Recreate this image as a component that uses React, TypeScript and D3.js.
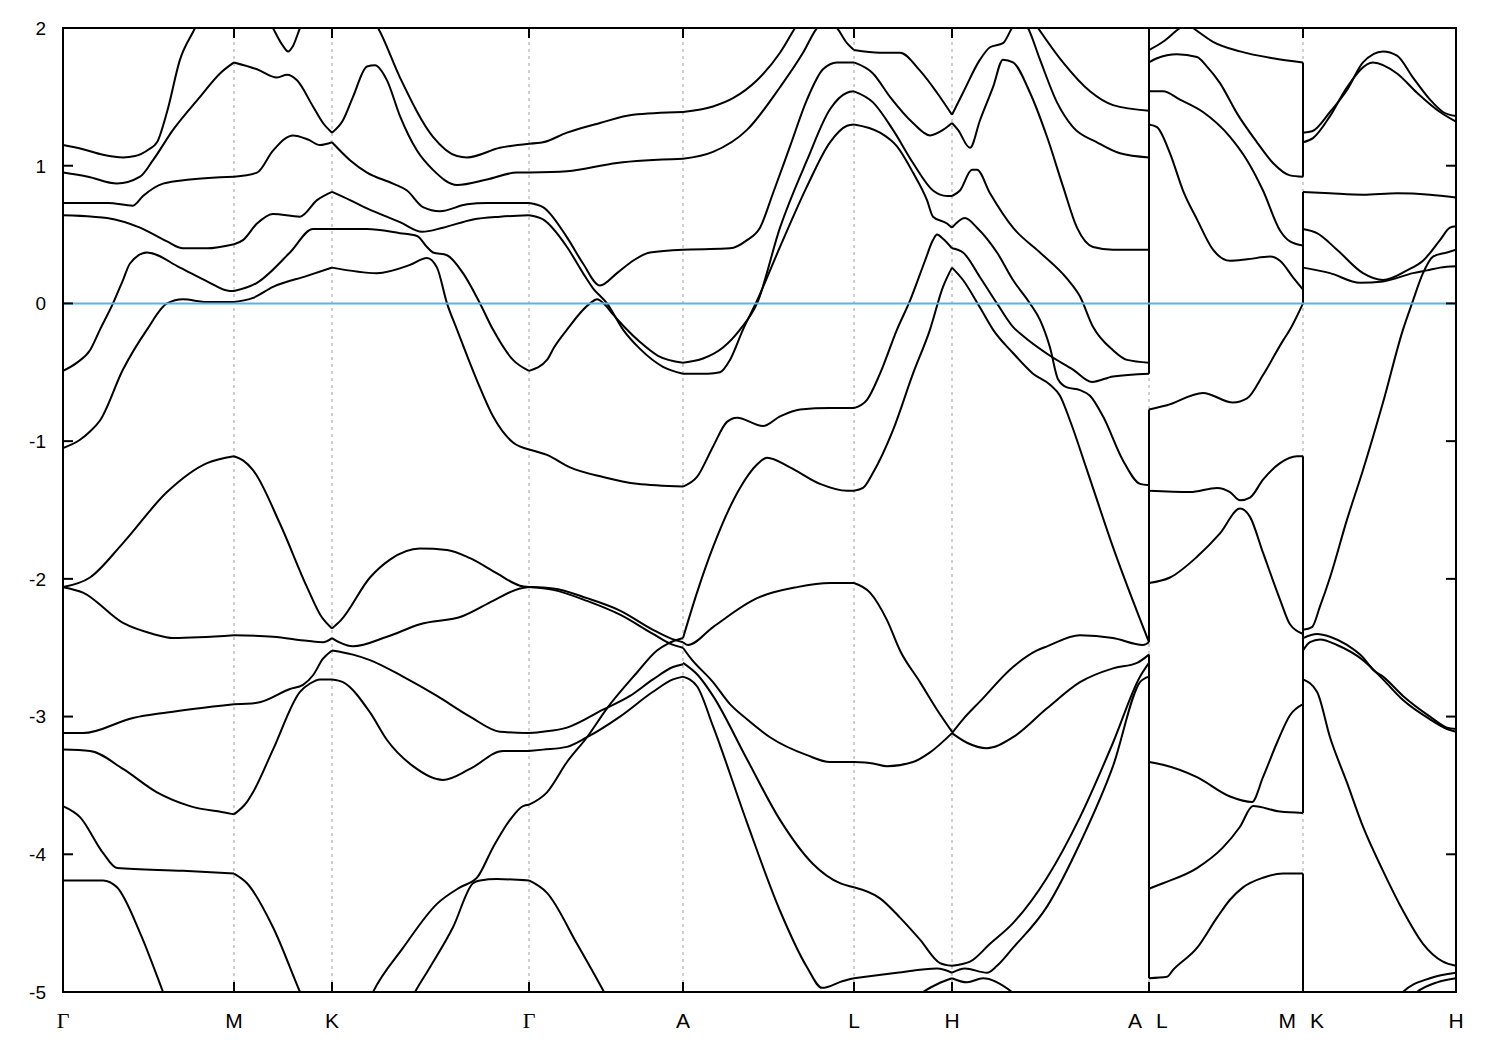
import React from "react";
import * as d3 from "d3";

const W = 1500;
const H = 1050;
const PL = 63, PR = 1456, PT = 28, PB = 992;

const kPoints = [0, 1.71, 2.69, 4.66, 6.2, 7.91, 8.89, 10.86, 12.4, 13.93];
const yTicks = [2, 1, 0, -1, -2, -3, -4, -5];
const kLabels = [
  { k: 0, text: "Γ", side: 0 },
  { k: 1.71, text: "M", side: 0 },
  { k: 2.69, text: "K", side: 0 },
  { k: 4.66, text: "Γ", side: 0 },
  { k: 6.2, text: "A", side: 0 },
  { k: 7.91, text: "L", side: 0 },
  { k: 8.89, text: "H", side: 0 },
  { k: 10.86, text: "A", side: -1 },
  { k: 10.86, text: "L", side: 1 },
  { k: 12.4, text: "M", side: -1 },
  { k: 12.4, text: "K", side: 1 },
  { k: 13.93, text: "H", side: 0 },
];

// Γ - M
const bandsGM = [
  [[0,1.15],[0.2,1.12],[0.4,1.08],[0.6,1.06],[0.72,1.07],[0.86,1.12],[0.94,1.17],[1.04,1.39],[1.17,1.77],[1.32,2.0],[1.5,2.3],[1.71,2.4]],
  [[0,0.95],[0.25,0.92],[0.54,0.87],[0.77,0.92],[0.9,1.04],[1.1,1.26],[1.37,1.5],[1.57,1.67],[1.71,1.75]],
  [[0,0.73],[0.45,0.73],[0.7,0.71],[0.8,0.78],[1.0,0.87],[1.27,0.9],[1.71,0.92]],
  [[0,0.64],[0.3,0.63],[0.44,0.62],[0.77,0.55],[1.04,0.45],[1.2,0.4],[1.44,0.4],[1.71,0.43]],
  [[0,-0.49],[0.14,-0.43],[0.27,-0.34],[0.37,-0.19],[0.5,0.0],[0.6,0.17],[0.67,0.29],[0.84,0.37],[1.17,0.26],[1.44,0.16],[1.67,0.09],[1.71,0.09]],
  [[0,-1.05],[0.17,-0.99],[0.27,-0.93],[0.37,-0.85],[0.6,-0.48],[0.84,-0.19],[1.04,0.0],[1.2,0.03],[1.44,0.01],[1.71,0.01]],
  [[0,-2.06],[0.27,-1.99],[0.6,-1.74],[1.04,-1.37],[1.44,-1.16],[1.71,-1.11]],
  [[0,-2.06],[0.2,-2.1],[0.6,-2.32],[0.9,-2.4],[1.1,-2.43],[1.71,-2.41]],
  [[0,-3.12],[0.2,-3.12],[0.7,-3.01],[1.04,-2.97],[1.71,-2.91]],
  [[0,-3.24],[0.27,-3.25],[0.6,-3.38],[0.94,-3.55],[1.27,-3.65],[1.64,-3.7],[1.71,-3.71]],
  [[0,-3.65],[0.17,-3.73],[0.4,-3.99],[0.54,-4.1],[1.2,-4.12],[1.71,-4.14]],
  [[0,-4.19],[0.4,-4.19],[0.54,-4.24],[0.77,-4.57],[1.0,-5.0],[1.3,-5.6]],
];

// M - K
const bandsMK = [
  [[1.71,2.4],[2.0,2.15],[2.1,2.0],[2.2,1.87],[2.25,1.83],[2.3,1.87],[2.37,2.0],[2.5,2.2],[2.69,2.35]],
  [[1.71,1.75],[1.94,1.7],[2.14,1.64],[2.24,1.66],[2.34,1.62],[2.5,1.43],[2.6,1.31],[2.69,1.24]],
  [[1.71,0.92],[1.94,0.95],[2.1,1.11],[2.3,1.22],[2.45,1.19],[2.57,1.15],[2.69,1.17]],
  [[1.71,0.43],[1.8,0.46],[1.94,0.58],[2.1,0.65],[2.37,0.63],[2.54,0.75],[2.69,0.81]],
  [[1.71,0.09],[1.94,0.15],[2.27,0.37],[2.5,0.54],[2.69,0.54]],
  [[1.71,0.01],[1.9,0.04],[2.1,0.12],[2.44,0.2],[2.69,0.26]],
  [[1.71,-1.11],[1.8,-1.14],[1.9,-1.21],[2.17,-1.6],[2.44,-2.06],[2.58,-2.27],[2.69,-2.36]],
  [[1.71,-2.41],[2.1,-2.42],[2.44,-2.45],[2.6,-2.46],[2.69,-2.43]],
  [[1.71,-2.91],[1.94,-2.9],[2.27,-2.8],[2.4,-2.77],[2.5,-2.7],[2.6,-2.58],[2.69,-2.52]],
  [[1.71,-3.71],[1.84,-3.62],[1.9,-3.55],[2.1,-3.24],[2.37,-2.82],[2.47,-2.76],[2.57,-2.73],[2.69,-2.73]],
  [[1.71,-4.14],[1.84,-4.21],[2.1,-4.53],[2.37,-5.0],[2.55,-5.3],[2.69,-5.4]],
];

// K - Γ
const bandsKG = [
  [[2.69,2.35],[2.9,2.2],[3.15,2.0],[3.37,1.64],[3.7,1.21],[3.94,1.07],[4.04,1.06],[4.37,1.13],[4.66,1.16]],
  [[2.69,1.24],[2.8,1.33],[2.9,1.5],[3.04,1.72],[3.12,1.73],[3.24,1.62],[3.37,1.36],[3.54,1.11],[3.7,0.97],[3.94,0.86],[4.24,0.9],[4.54,0.95],[4.66,0.95]],
  [[2.69,1.17],[2.87,1.04],[3.04,0.95],[3.3,0.87],[3.44,0.82],[3.6,0.7],[3.77,0.67],[4.04,0.72],[4.24,0.73],[4.66,0.73]],
  [[2.69,0.81],[2.87,0.75],[3.04,0.69],[3.37,0.59],[3.59,0.52],[3.8,0.55],[4.1,0.61],[4.37,0.63],[4.66,0.64]],
  [[2.69,0.54],[3.04,0.54],[3.37,0.51],[3.54,0.49],[3.64,0.41],[3.7,0.37],[3.84,0.35],[4.0,0.22],[4.17,0.0],[4.3,-0.19],[4.5,-0.41],[4.66,-0.49]],
  [[2.69,0.26],[3.14,0.22],[3.47,0.28],[3.64,0.33],[3.74,0.26],[3.84,0.0],[3.94,-0.19],[4.14,-0.56],[4.3,-0.82],[4.5,-1.01],[4.66,-1.06]],
  [[2.69,-2.36],[2.78,-2.3],[3.07,-1.99],[3.27,-1.86],[3.57,-1.78],[3.84,-1.79],[4.07,-1.85],[4.34,-1.96],[4.57,-2.05],[4.66,-2.06]],
  [[2.69,-2.43],[2.76,-2.46],[2.9,-2.49],[3.24,-2.42],[3.57,-2.33],[4.0,-2.27],[4.3,-2.16],[4.57,-2.07],[4.66,-2.06]],
  [[2.69,-2.52],[2.9,-2.55],[3.07,-2.59],[3.4,-2.71],[3.74,-2.85],[4.07,-3.0],[4.37,-3.11],[4.66,-3.12]],
  [[2.69,-2.73],[2.8,-2.75],[3.07,-2.97],[3.24,-3.17],[3.5,-3.36],[3.8,-3.46],[4.07,-3.38],[4.4,-3.25],[4.66,-3.25]],
  [[2.69,-5.5],[2.95,-5.25],[3.1,-5.0],[3.4,-4.68],[3.74,-4.36],[3.97,-4.24],[4.14,-4.17],[4.3,-3.95],[4.47,-3.75],[4.6,-3.65],[4.66,-3.64]],
  [[2.69,-6.0],[3.2,-5.5],[3.52,-5.0],[3.67,-4.82],[3.9,-4.53],[4.1,-4.21],[4.17,-4.19],[4.34,-4.18],[4.66,-4.19]],
];

// Γ - A
const bandsGA = [
  [[4.66,1.16],[4.8,1.17],[5.04,1.24],[5.37,1.31],[5.7,1.37],[6.2,1.39]],
  [[4.66,0.95],[5.04,0.96],[5.54,1.02],[6.2,1.05]],
  [[4.66,0.73],[4.8,0.7],[5.04,0.48],[5.2,0.29],[5.37,0.13],[5.54,0.22],[5.7,0.31],[5.87,0.37],[6.2,0.39]],
  [[4.66,0.64],[4.8,0.61],[5.04,0.41],[5.2,0.22],[5.3,0.11],[5.44,0.0],[5.6,-0.19],[5.77,-0.33],[6.0,-0.46],[6.2,-0.51]],
  [[4.66,-0.49],[4.84,-0.41],[4.91,-0.32],[5.04,-0.19],[5.27,0.0],[5.34,0.03],[5.42,-0.01],[5.5,-0.08],[5.6,-0.16],[5.77,-0.28],[5.95,-0.38],[6.2,-0.43]],
  [[4.66,-1.06],[4.84,-1.1],[5.07,-1.19],[5.4,-1.26],[5.74,-1.31],[6.2,-1.33]],
  [[4.66,-2.06],[4.9,-2.07],[5.24,-2.14],[5.57,-2.23],[5.9,-2.37],[6.07,-2.43],[6.2,-2.46]],
  [[4.66,-2.06],[4.9,-2.08],[5.24,-2.16],[5.57,-2.26],[5.9,-2.4],[6.07,-2.47],[6.2,-2.5]],
  [[4.66,-3.12],[4.8,-3.11],[5.04,-3.08],[5.4,-2.95],[5.67,-2.85],[5.9,-2.73],[6.1,-2.64],[6.2,-2.62]],
  [[4.66,-3.25],[4.8,-3.24],[5.04,-3.22],[5.24,-3.15],[5.57,-3.0],[5.9,-2.82],[6.1,-2.73],[6.2,-2.71]],
  [[4.66,-3.64],[4.84,-3.55],[5.04,-3.33],[5.24,-3.15],[5.44,-2.94],[5.74,-2.68],[5.94,-2.52],[6.05,-2.47],[6.2,-2.43]],
  [[4.66,-4.19],[4.84,-4.28],[5.14,-4.65],[5.41,-5.0],[5.7,-5.4]],
];

// A - L
const bandsAL = [
  [[6.2,1.39],[6.5,1.43],[6.7,1.49],[6.94,1.62],[7.17,1.82],[7.32,2.0],[7.6,2.3],[7.91,2.4]],
  [[6.2,1.05],[6.5,1.1],[6.84,1.26],[7.17,1.57],[7.4,1.82],[7.54,2.0],[7.64,2.06],[7.74,2.0],[7.84,1.89],[7.91,1.84]],
  [[6.2,0.39],[6.67,0.4],[6.84,0.46],[6.97,0.55],[7.1,0.8],[7.27,1.14],[7.44,1.48],[7.6,1.7],[7.74,1.75],[7.91,1.75]],
  [[6.2,-0.43],[6.4,-0.4],[6.6,-0.32],[6.77,-0.19],[6.94,0.0],[7.17,0.55],[7.44,1.04],[7.67,1.41],[7.84,1.53],[7.91,1.54]],
  [[6.2,-0.51],[6.45,-0.51],[6.57,-0.5],[6.67,-0.41],[6.8,-0.19],[6.94,0.02],[7.17,0.41],[7.44,0.85],[7.67,1.17],[7.84,1.29],[7.91,1.3]],
  [[6.2,-1.33],[6.34,-1.26],[6.5,-1.04],[6.64,-0.86],[6.74,-0.83],[7.0,-0.89],[7.17,-0.82],[7.37,-0.77],[7.67,-0.76],[7.91,-0.76]],
  [[6.2,-2.43],[6.34,-2.1],[6.5,-1.77],[6.77,-1.34],[6.94,-1.17],[7.04,-1.12],[7.27,-1.19],[7.57,-1.31],[7.84,-1.36],[7.91,-1.36]],
  [[6.2,-2.46],[6.25,-2.48],[6.5,-2.35],[6.94,-2.14],[7.34,-2.06],[7.67,-2.03],[7.91,-2.03]],
  [[6.2,-2.5],[6.27,-2.57],[6.5,-2.75],[6.67,-2.91],[6.84,-3.02],[7.07,-3.15],[7.44,-3.28],[7.67,-3.33],[7.91,-3.33]],
  [[6.2,-2.61],[6.35,-2.7],[6.5,-2.85],[6.84,-3.31],[7.17,-3.75],[7.5,-4.07],[7.77,-4.21],[7.91,-4.24]],
  [[6.2,-2.71],[6.34,-2.78],[6.5,-3.07],[6.84,-3.77],[7.17,-4.41],[7.44,-4.82],[7.59,-4.97],[7.8,-4.92],[7.91,-4.9]],
];

// L - H
const bandsLH = [
  [[7.91,1.84],[8.17,1.82],[8.37,1.82],[8.57,1.69],[8.74,1.53],[8.89,1.37]],
  [[7.91,1.75],[8.1,1.67],[8.27,1.5],[8.5,1.31],[8.67,1.22],[8.8,1.26],[8.89,1.31]],
  [[7.91,1.54],[8.1,1.46],[8.3,1.26],[8.5,1.02],[8.7,0.82],[8.84,0.78],[8.89,0.78]],
  [[7.91,1.3],[8.17,1.24],[8.34,1.14],[8.5,0.95],[8.64,0.75],[8.7,0.63],[8.84,0.58],[8.89,0.55]],
  [[7.91,-0.76],[8.04,-0.7],[8.17,-0.51],[8.34,-0.19],[8.47,0.02],[8.62,0.31],[8.7,0.46],[8.74,0.5],[8.8,0.47],[8.89,0.4]],
  [[7.91,-1.36],[8.0,-1.34],[8.1,-1.23],[8.3,-0.92],[8.5,-0.51],[8.67,-0.19],[8.8,0.12],[8.89,0.26]],
  [[7.91,-2.03],[8.07,-2.1],[8.24,-2.3],[8.37,-2.52],[8.57,-2.75],[8.74,-2.95],[8.89,-3.11]],
  [[7.91,-3.33],[8.1,-3.34],[8.24,-3.36],[8.5,-3.33],[8.67,-3.26],[8.89,-3.12]],
  [[7.91,-4.24],[8.17,-4.32],[8.37,-4.46],[8.57,-4.62],[8.77,-4.79],[8.89,-4.81]],
  [[7.91,-4.9],[8.34,-4.86],[8.74,-4.83],[8.89,-4.86]],
  [[8.4,-5.12],[8.6,-5.0],[8.75,-4.94],[8.89,-4.9]],
];

// H - A
const bandsHA = [
  [[8.89,1.37],[9.0,1.53],[9.17,1.77],[9.27,1.86],[9.4,1.89],[9.49,2.0],[9.57,2.08],[9.65,2.0],[9.77,1.77],[9.94,1.46],[10.1,1.28],[10.34,1.17],[10.57,1.09],[10.86,1.06]],
  [[8.89,2.6],[9.4,2.4],[9.75,2.0],[10.0,1.75],[10.27,1.54],[10.5,1.44],[10.86,1.4]],
  [[8.89,1.31],[8.95,1.26],[9.07,1.13],[9.17,1.33],[9.3,1.57],[9.4,1.77],[9.5,1.75],[9.67,1.53],[9.84,1.21],[10.0,0.85],[10.14,0.55],[10.3,0.41],[10.5,0.39],[10.86,0.39]],
  [[8.89,0.78],[8.97,0.82],[9.09,0.97],[9.14,0.97],[9.27,0.8],[9.5,0.55],[9.77,0.37],[10.04,0.18],[10.17,0.05],[10.3,-0.17],[10.5,-0.34],[10.64,-0.41],[10.86,-0.43]],
  [[8.89,0.55],[9.02,0.62],[9.14,0.55],[9.34,0.37],[9.5,0.17],[9.67,0.0],[9.77,-0.12],[9.87,-0.32],[9.95,-0.55],[10.04,-0.61],[10.17,-0.63],[10.27,-0.67],[10.4,-0.82],[10.6,-1.14],[10.77,-1.31],[10.86,-1.32]],
  [[8.89,0.4],[9.0,0.37],[9.17,0.19],[9.34,0.0],[9.5,-0.17],[9.59,-0.23],[9.87,-0.38],[10.1,-0.48],[10.29,-0.57],[10.5,-0.53],[10.86,-0.51]],
  [[8.89,0.26],[9.0,0.17],[9.17,-0.03],[9.3,-0.19],[9.5,-0.36],[9.7,-0.51],[9.87,-0.59],[9.97,-0.67],[10.07,-0.85],[10.24,-1.21],[10.5,-1.77],[10.86,-2.46]],
  [[8.89,-3.12],[9.0,-3.02],[9.17,-2.89],[9.5,-2.64],[9.74,-2.52],[9.84,-2.49],[10.17,-2.41],[10.5,-2.43],[10.8,-2.48],[10.86,-2.46]],
  [[8.89,-3.12],[9.04,-3.19],[9.24,-3.23],[9.5,-3.15],[9.84,-2.94],[10.17,-2.75],[10.5,-2.65],[10.74,-2.61],[10.86,-2.55]],
  [[8.89,-4.81],[9.07,-4.78],[9.27,-4.65],[9.5,-4.5],[9.84,-4.17],[10.17,-3.73],[10.5,-3.19],[10.77,-2.71],[10.86,-2.61]],
  [[8.89,-4.86],[9.02,-4.83],[9.24,-4.86],[9.34,-4.81],[9.5,-4.68],[9.84,-4.38],[10.17,-3.92],[10.5,-3.36],[10.77,-2.75],[10.86,-2.71]],
  [[8.89,-4.9],[9.04,-4.93],[9.2,-4.9],[9.49,-5.0],[9.7,-5.15]],
];

// L - M
const bandsLM = [
  [[10.86,1.84],[11.0,1.9],[11.17,2.0],[11.24,2.03],[11.3,2.0],[11.5,1.9],[11.77,1.83],[12.1,1.78],[12.4,1.75]],
  [[10.86,1.75],[10.94,1.78],[11.14,1.81],[11.34,1.79],[11.44,1.72],[11.57,1.6],[11.74,1.38],[11.94,1.17],[12.1,1.02],[12.27,0.93],[12.4,0.92]],
  [[10.86,1.54],[11.0,1.54],[11.17,1.48],[11.4,1.39],[11.67,1.21],[11.84,1.04],[12.0,0.82],[12.17,0.53],[12.27,0.45],[12.4,0.42]],
  [[10.86,1.3],[10.94,1.28],[11.07,1.09],[11.2,0.82],[11.34,0.61],[11.5,0.39],[11.67,0.31],[11.84,0.32],[12.07,0.34],[12.17,0.31],[12.3,0.19],[12.4,0.1]],
  [[10.86,-0.77],[11.04,-0.74],[11.4,-0.65],[11.7,-0.72],[11.84,-0.69],[12.0,-0.52],[12.2,-0.27],[12.27,-0.19],[12.4,0.0]],
  [[10.86,-1.36],[11.27,-1.37],[11.54,-1.34],[11.67,-1.37],[11.77,-1.43],[11.87,-1.41],[12.0,-1.28],[12.17,-1.16],[12.34,-1.11],[12.4,-1.11]],
  [[10.86,-2.03],[11.07,-1.99],[11.34,-1.84],[11.57,-1.67],[11.77,-1.49],[11.87,-1.55],[12.0,-1.81],[12.17,-2.15],[12.27,-2.33],[12.4,-2.4]],
  [[10.86,-3.33],[11.0,-3.35],[11.34,-3.44],[11.67,-3.58],[11.89,-3.62],[12.0,-3.44],[12.14,-3.19],[12.27,-2.99],[12.4,-2.91]],
  [[10.86,-4.25],[11.0,-4.21],[11.34,-4.1],[11.6,-3.95],[11.77,-3.8],[11.9,-3.65],[12.17,-3.69],[12.4,-3.7]],
  [[10.86,-4.9],[11.04,-4.89],[11.1,-4.84],[11.34,-4.68],[11.54,-4.46],[11.67,-4.33],[11.8,-4.24],[12.0,-4.17],[12.2,-4.14],[12.4,-4.14]],
];

// K - H
const bandsKH = [
  [[12.4,1.24],[12.49,1.25],[12.67,1.39],[12.84,1.55],[13.0,1.75],[13.2,1.83],[13.34,1.8],[13.5,1.64],[13.67,1.48],[13.8,1.39],[13.93,1.36]],
  [[12.4,1.17],[12.5,1.2],[12.67,1.36],[12.84,1.57],[13.1,1.75],[13.34,1.67],[13.54,1.53],[13.77,1.39],[13.93,1.32]],
  [[12.4,0.81],[12.67,0.8],[13.0,0.79],[13.34,0.8],[13.67,0.79],[13.93,0.77]],
  [[12.4,0.54],[12.54,0.51],[12.74,0.39],[13.0,0.22],[13.2,0.17],[13.44,0.24],[13.6,0.31],[13.77,0.46],[13.87,0.55],[13.93,0.56]],
  [[12.4,0.26],[12.67,0.22],[12.97,0.15],[13.2,0.16],[13.5,0.22],[13.64,0.24],[13.77,0.26],[13.93,0.27]],
  [[12.4,-2.37],[12.49,-2.35],[12.57,-2.2],[12.67,-1.99],[12.84,-1.57],[13.0,-1.21],[13.2,-0.72],[13.4,-0.19],[13.49,0.0],[13.6,0.22],[13.7,0.34],[13.84,0.37],[13.93,0.39]],
  [[12.4,-2.43],[12.54,-2.4],[12.67,-2.42],[12.84,-2.48],[13.0,-2.57],[13.1,-2.66],[13.2,-2.71],[13.4,-2.85],[13.67,-3.0],[13.84,-3.08],[13.93,-3.09]],
  [[12.4,-2.52],[12.47,-2.46],[12.57,-2.44],[12.74,-2.48],[13.0,-2.59],[13.2,-2.73],[13.4,-2.88],[13.67,-3.02],[13.84,-3.09],[13.93,-3.11]],
  [[12.4,-2.73],[12.54,-2.82],[12.67,-3.15],[12.84,-3.48],[13.0,-3.8],[13.2,-4.12],[13.4,-4.41],[13.6,-4.65],[13.8,-4.78],[13.93,-4.81]],
  [[13.2,-5.2],[13.4,-5.0],[13.67,-4.9],[13.93,-4.86]],
  [[13.3,-5.2],[13.54,-5.0],[13.74,-4.93],[13.93,-4.9]],
];

// vertical band jumps at the path discontinuities (energy ranges)
const breakAL = [[2.1, -0.51], [-0.77, -2.46], [-2.55, -4.9]];
const breakMK = [[1.75, 0.92], [0.81, 0.0], [-1.11, -3.7], [-4.14, -5.1]];

const allSegments = [bandsGM, bandsMK, bandsKG, bandsGA, bandsAL, bandsLH, bandsHA, bandsLM, bandsKH];

export default function App() {
  const x = d3.scaleLinear().domain([0, 13.93]).range([PL, PR]);
  const y = d3.scaleLinear().domain([-5, 2]).range([PB, PT]);
  const line = d3
    .line<number[]>()
    .x((d) => x(d[0]))
    .y((d) => y(d[1]))
    .curve(d3.curveMonotoneX);

  const interior = kPoints.slice(1, -1);
  const font = "'Liberation Sans', Arial, sans-serif";
  const lw = 2;

  return (
    <svg
      width={W}
      height={H}
      style={{ position: "absolute", left: 0, top: 0, background: "#fff" }}
    >
      <defs>
        <clipPath id="plotClip">
          <rect x={PL} y={PT} width={PR - PL} height={PB - PT} />
        </clipPath>
      </defs>
      <rect x={0} y={0} width={W} height={H} fill="#fff" />
      {interior.map((k, i) => (
        <line
          key={"g" + i}
          x1={x(k)}
          x2={x(k)}
          y1={PT}
          y2={PB}
          stroke="#a0a0a0"
          strokeWidth={1}
          strokeDasharray="3,4"
        />
      ))}
      <g clipPath="url(#plotClip)">
        {allSegments.map((seg, si) =>
          seg.map((b, bi) => (
            <path
              key={si + "-" + bi}
              d={line(b as number[][]) || ""}
              fill="none"
              stroke="#000"
              strokeWidth={lw}
              strokeLinejoin="round"
            />
          ))
        )}
        {breakAL.map((r, i) => (
          <line key={"al" + i} x1={x(10.86)} x2={x(10.86)} y1={y(r[0])} y2={y(r[1])} stroke="#000" strokeWidth={lw} />
        ))}
        {breakMK.map((r, i) => (
          <line key={"mk" + i} x1={x(12.4)} x2={x(12.4)} y1={y(r[0])} y2={y(r[1])} stroke="#000" strokeWidth={lw} />
        ))}
        <line x1={PL} x2={PR} y1={y(0)} y2={y(0)} stroke="#56b4e9" strokeWidth={2} />
      </g>
      <rect x={PL} y={PT} width={PR - PL} height={PB - PT} fill="none" stroke="#000" strokeWidth={2} />
      {yTicks.map((t) => (
        <g key={"y" + t}>
          <line x1={PL} x2={PL + 10} y1={y(t)} y2={y(t)} stroke="#000" strokeWidth={2} />
          <line x1={PR - 10} x2={PR} y1={y(t)} y2={y(t)} stroke="#000" strokeWidth={2} />
          <text x={46} y={y(t)} dy="0.36em" textAnchor="end" fontFamily={font} fontSize={19}>
            {t}
          </text>
        </g>
      ))}
      {kPoints.map((k, i) => (
        <g key={"x" + i}>
          <line x1={x(k)} x2={x(k)} y1={PB} y2={PB - 10} stroke="#000" strokeWidth={2} />
          <line x1={x(k)} x2={x(k)} y1={PT} y2={PT + 10} stroke="#000" strokeWidth={2} />
        </g>
      ))}
      {kLabels.map((l, i) => {
        const isGamma = l.text === "Γ";
        const xx = x(l.k) + (l.side === -1 ? -7 : l.side === 1 ? 7 : 0);
        const anchor = l.side === -1 ? "end" : l.side === 1 ? "start" : "middle";
        return (
          <text
            key={"l" + i}
            x={xx}
            y={1028}
            textAnchor={anchor}
            fontFamily={isGamma ? "'Liberation Serif', 'DejaVu Serif', serif" : font}
            fontSize={isGamma ? 22 : 21}
          >
            {l.text}
          </text>
        );
      })}
    </svg>
  );
}
